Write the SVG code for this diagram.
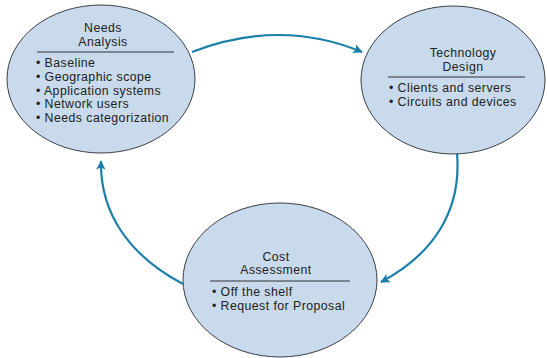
<svg xmlns="http://www.w3.org/2000/svg" width="547" height="358" viewBox="0 0 547 358">
<style>
.node{fill:#c8daeb;stroke:#3a3f45;stroke-width:1}
.t{font-family:"Liberation Sans",Arial,sans-serif;font-size:12.3px;letter-spacing:0.45px;fill:#222}
.c{text-anchor:middle}
.rule{stroke:#333;stroke-width:1}
.conn{fill:none;stroke:#1a7fa8;stroke-width:2.2}
</style>
<defs>
<marker id="ah" viewBox="0 0 10 10" refX="9" refY="5" markerWidth="6" markerHeight="6" markerUnits="userSpaceOnUse" orient="auto" overflow="visible">
<path d="M0,0 L10,5 L0,10 L2.5,5 Z" fill="#1a7fa8" transform="scale(1.6) translate(-3.5,-1.9)"/>
</marker>
</defs>
<rect width="547" height="358" fill="#fff"/>
<g id="connectors">
<path class="conn" d="M192,52 Q280,18 362,52" marker-end="url(#ah)"/>
<path class="conn" d="M457,153 C462,212 432,255 381,282" marker-end="url(#ah)"/>
<path class="conn" d="M183,284 C128,255 100,212 101,161" marker-end="url(#ah)"/>
</g>
<g id="needs-analysis">
<ellipse class="node" cx="101" cy="79" rx="94" ry="74"/>
<text class="t c" x="103" y="32">Needs</text>
<text class="t c" x="103" y="46">Analysis</text>
<line class="rule" x1="37" y1="52" x2="174" y2="52"/>
<text class="t" x="36" y="67">• Baseline</text>
<text class="t" x="36" y="80.75">• Geographic scope</text>
<text class="t" x="36" y="94.5">• Application systems</text>
<text class="t" x="36" y="108.25">• Network users</text>
<text class="t" x="36" y="122">• Needs categorization</text>
</g>
<g id="technology-design">
<ellipse class="node" cx="453" cy="80" rx="92" ry="74"/>
<text class="t c" x="463" y="57">Technology</text>
<text class="t c" x="463" y="71">Design</text>
<line class="rule" x1="388" y1="77" x2="525" y2="77"/>
<text class="t" x="389" y="92">• Clients and servers</text>
<text class="t" x="389" y="106">• Circuits and devices</text>
</g>
<g id="cost-assessment">
<ellipse class="node" cx="280" cy="280" rx="97" ry="77"/>
<text class="t c" x="276" y="260.5">Cost</text>
<text class="t c" x="276" y="274">Assessment</text>
<line class="rule" x1="210" y1="281" x2="350" y2="281"/>
<text class="t" x="212" y="295.5">• Off the shelf</text>
<text class="t" x="212" y="309.5">• Request for Proposal</text>
</g>
</svg>
